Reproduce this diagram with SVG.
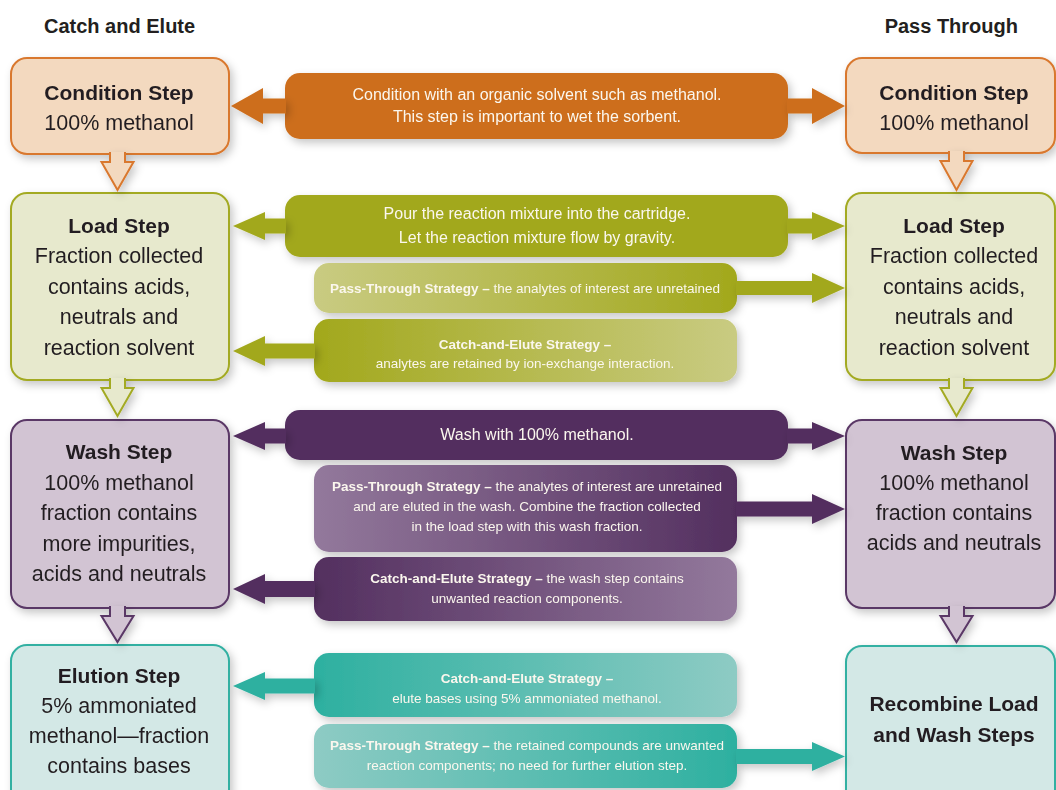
<svg xmlns="http://www.w3.org/2000/svg" width="1056" height="790" viewBox="0 0 1056 790">
<defs>
  <filter id="sh" x="-10%" y="-10%" width="130%" height="140%">
    <feDropShadow dx="3" dy="4" stdDeviation="4" flood-color="#000" flood-opacity="0.22"/>
  </filter>
  <linearGradient id="gOlL" x1="0" x2="1" y1="0" y2="0"><stop offset="0" stop-color="#c9cb82"/><stop offset="1" stop-color="#a2a81c"/></linearGradient>
  <linearGradient id="gOlR" x1="0" x2="1" y1="0" y2="0"><stop offset="0" stop-color="#a2a81c"/><stop offset="1" stop-color="#c9cb82"/></linearGradient>
  <linearGradient id="gPuL" x1="0" x2="1" y1="0" y2="0"><stop offset="0" stop-color="#93799c"/><stop offset="1" stop-color="#532f5f"/></linearGradient>
  <linearGradient id="gPuR" x1="0" x2="1" y1="0" y2="0"><stop offset="0" stop-color="#532f5f"/><stop offset="1" stop-color="#93799c"/></linearGradient>
  <linearGradient id="gTeL" x1="0" x2="1" y1="0" y2="0"><stop offset="0" stop-color="#8ecbc4"/><stop offset="1" stop-color="#2db0a0"/></linearGradient>
  <linearGradient id="gTeR" x1="0" x2="1" y1="0" y2="0"><stop offset="0" stop-color="#2db0a0"/><stop offset="1" stop-color="#8ecbc4"/></linearGradient>
</defs>
<style>
  text { font-family: "Liberation Sans", Arial, sans-serif; fill: #231f20; }
  .hd { font-size: 20px; font-weight: bold; }
  .bt { font-size: 21px; font-weight: bold; text-anchor: middle; }
  .bx { font-size: 21.5px; text-anchor: middle; }
  .bn { font-size: 16px; text-anchor: middle; fill: #fbf7ee; }
  .st { font-size: 13.5px; text-anchor: middle; fill: #fbf7ee; }
  .b { font-weight: bold; }
  .box { stroke-width: 2; }
  .cond { fill: #f3d9bf; stroke: #d9782e; }
  .load { fill: #e7e9cd; stroke: #a3aa24; }
  .wash { fill: #d2c4d3; stroke: #5a3766; }
  .elu { fill: #d3e8e6; stroke: #33b0a2; }
  .dn { stroke-width: 2; stroke-linejoin: miter; }
</style>

<g id="header-catch"><text class="hd" x="44" y="33">Catch and Elute</text></g>
<g id="header-pass"><text class="hd" x="1018" y="33" text-anchor="end">Pass Through</text></g>

<g id="nodes" filter="url(#sh)">
  <g id="L-condition">
    <rect class="box cond" x="11" y="58" width="218" height="96" rx="16"/>
    <text class="bt" x="119" y="100">Condition Step</text>
    <text class="bx" x="119" y="130">100% methanol</text>
  </g>
  <g id="L-load">
    <rect class="box load" x="11" y="193" width="218" height="187" rx="16"/>
    <text class="bt" x="119" y="233">Load Step</text>
    <text class="bx" x="119" y="263">Fraction collected</text>
    <text class="bx" x="119" y="294">contains acids,</text>
    <text class="bx" x="119" y="324">neutrals and</text>
    <text class="bx" x="119" y="355">reaction solvent</text>
  </g>
  <g id="L-wash">
    <rect class="box wash" x="11" y="420" width="218" height="188" rx="16"/>
    <text class="bt" x="119" y="459">Wash Step</text>
    <text class="bx" x="119" y="490">100% methanol</text>
    <text class="bx" x="119" y="520">fraction contains</text>
    <text class="bx" x="119" y="551">more impurities,</text>
    <text class="bx" x="119" y="581">acids and neutrals</text>
  </g>
  <g id="L-elution">
    <rect class="box elu" x="11" y="645" width="218" height="170" rx="16"/>
    <text class="bt" x="119" y="683">Elution Step</text>
    <text class="bx" x="119" y="713">5% ammoniated</text>
    <text class="bx" x="119" y="743">methanol—fraction</text>
    <text class="bx" x="119" y="773">contains bases</text>
  </g>

  <g id="R-condition">
    <rect class="box cond" x="846" y="58" width="209" height="95" rx="16"/>
    <text class="bt" x="954" y="100">Condition Step</text>
    <text class="bx" x="954" y="130">100% methanol</text>
  </g>
  <g id="R-load">
    <rect class="box load" x="846" y="193" width="209" height="187" rx="16"/>
    <text class="bt" x="954" y="233">Load Step</text>
    <text class="bx" x="954" y="263">Fraction collected</text>
    <text class="bx" x="954" y="294">contains acids,</text>
    <text class="bx" x="954" y="324">neutrals and</text>
    <text class="bx" x="954" y="355">reaction solvent</text>
  </g>
  <g id="R-wash">
    <rect class="box wash" x="846" y="420" width="209" height="188" rx="16"/>
    <text class="bt" x="954" y="460">Wash Step</text>
    <text class="bx" x="954" y="490">100% methanol</text>
    <text class="bx" x="954" y="520">fraction contains</text>
    <text class="bx" x="954" y="550">acids and neutrals</text>
  </g>
  <g id="R-recombine">
    <rect class="box elu" x="846" y="646" width="209" height="170" rx="16"/>
    <text class="bt" x="954" y="711">Recombine Load</text>
    <text class="bt" x="954" y="742">and Wash Steps</text>
  </g>

  <g id="B-condition">
    <rect x="285" y="73" width="503" height="66" rx="15" fill="#cd6e1d"/>
    <text class="bn" x="537" y="100">Condition with an organic solvent such as methanol.</text>
    <text class="bn" x="537" y="122">This step is important to wet the sorbent.</text>
  </g>
  <g id="B-load">
    <rect x="285" y="195" width="503" height="62" rx="15" fill="#a2a81c"/>
    <text class="bn" x="537" y="219">Pour the reaction mixture into the cartridge.</text>
    <text class="bn" x="537" y="243">Let the reaction mixture flow by gravity.</text>
  </g>
  <g id="B-load-pass">
    <rect x="314" y="263" width="423" height="50" rx="15" fill="url(#gOlL)"/>
    <text class="st" x="525" y="293"><tspan class="b">Pass-Through Strategy –</tspan> the analytes of interest are unretained</text>
  </g>
  <g id="B-load-catch">
    <rect x="314" y="319" width="423" height="63" rx="15" fill="url(#gOlR)"/>
    <text class="st b" x="525" y="349">Catch-and-Elute Strategy –</text>
    <text class="st" x="525" y="368">analytes are retained by ion-exchange interaction.</text>
  </g>
  <g id="B-wash">
    <rect x="285" y="410" width="503" height="50" rx="15" fill="#532f5f"/>
    <text class="bn" x="537" y="440">Wash with 100% methanol.</text>
  </g>
  <g id="B-wash-pass">
    <rect x="314" y="465" width="423" height="87" rx="15" fill="url(#gPuL)"/>
    <text class="st" x="527" y="491"><tspan class="b">Pass-Through Strategy –</tspan> the analytes of interest are unretained</text>
    <text class="st" x="527" y="511">and are eluted in the wash. Combine the fraction collected</text>
    <text class="st" x="527" y="531">in the load step with this wash fraction.</text>
  </g>
  <g id="B-wash-catch">
    <rect x="314" y="557" width="423" height="64" rx="15" fill="url(#gPuR)"/>
    <text class="st" x="527" y="583"><tspan class="b">Catch-and-Elute Strategy –</tspan> the wash step contains</text>
    <text class="st" x="527" y="603">unwanted reaction components.</text>
  </g>
  <g id="B-elution-catch">
    <rect x="314" y="653" width="423" height="64" rx="15" fill="url(#gTeR)"/>
    <text class="st b" x="527" y="683">Catch-and-Elute Strategy –</text>
    <text class="st" x="527" y="703">elute bases using 5% ammoniated methanol.</text>
  </g>
  <g id="B-elution-pass">
    <rect x="314" y="724" width="423" height="64" rx="15" fill="url(#gTeL)"/>
    <text class="st" x="527" y="750"><tspan class="b">Pass-Through Strategy –</tspan> the retained compounds are unwanted</text>
    <text class="st" x="527" y="770">reaction components; no need for further elution step.</text>
  </g>
</g>

<g id="connectors" filter="url(#sh)">
  <path class="dn cond" d="M110,152 V162 H101.5 L117.5,190 L133.5,162 H125 V152"/>
  <path class="dn load" d="M110,378 V388 H101.5 L117.5,416 L133.5,388 H125 V378"/>
  <path class="dn wash" d="M110,606 V616 H101.5 L117.5,642 L133.5,616 H125 V606"/>
  <path class="dn cond" d="M949,151 V161 H940.5 L956.5,190 L972.5,161 H964 V151"/>
  <path class="dn load" d="M949,378 V388 H940.5 L956.5,416 L972.5,388 H964 V378"/>
  <path class="dn wash" d="M949,606 V616 H940.5 L956.5,642 L972.5,616 H964 V606"/>
  <polygon fill="#cd6e1d" points="286,98.5 263,98.5 263,88 231,106 263,124 263,113.5 286,113.5"/>
  <polygon fill="#cd6e1d" points="787,98.5 812,98.5 812,88 845,106 812,124 812,113.5 787,113.5"/>
  <polygon fill="#a2a81c" points="286,218.5 265,218.5 265,212 233,226 265,240 265,233.5 286,233.5"/>
  <polygon fill="#a2a81c" points="787,218.5 812,218.5 812,212 845,226 812,240 812,233.5 787,233.5"/>
  <polygon fill="#a2a81c" points="736,281 812,281 812,273 845,288 812,303 812,295 736,295"/>
  <polygon fill="#a2a81c" points="315,343.5 265,343.5 265,336 233,351 265,366 265,358.5 315,358.5"/>
  <polygon fill="#532f5f" points="286,428.5 265,428.5 265,422 233,436 265,450 265,443.5 286,443.5"/>
  <polygon fill="#532f5f" points="787,428.5 812,428.5 812,422 845,436 812,450 812,443.5 787,443.5"/>
  <polygon fill="#532f5f" points="736,501.5 812,501.5 812,494 845,509 812,524 812,516.5 736,516.5"/>
  <polygon fill="#532f5f" points="315,581 265,581 265,574 233,589 265,604 265,597 315,597"/>
  <polygon fill="#2db0a0" points="315,678.5 265,678.5 265,672 233,686 265,700 265,693.5 315,693.5"/>
  <polygon fill="#2db0a0" points="736,749 812,749 812,742 845,756.5 812,771 812,764 736,764"/>
</g>
</svg>
